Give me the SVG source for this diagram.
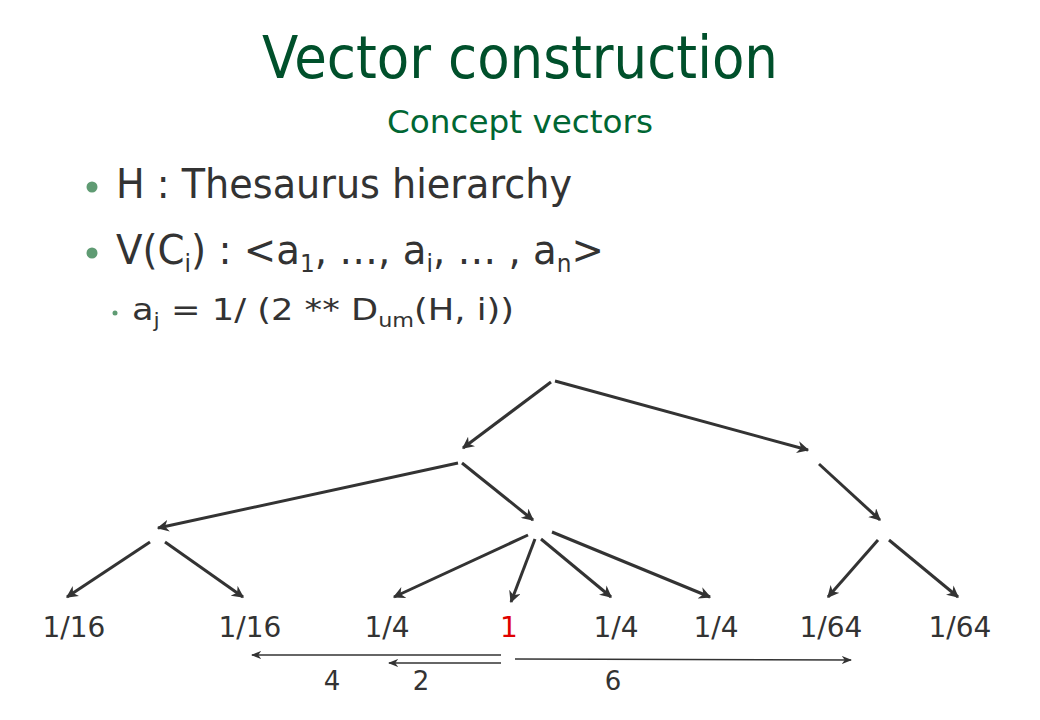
<svg xmlns="http://www.w3.org/2000/svg" width="1040" height="720" viewBox="0 0 1040 720">
<defs>
<marker id="ah" viewBox="0 0 10 10" refX="9" refY="5" markerWidth="4" markerHeight="4" orient="auto" markerUnits="strokeWidth">
<path d="M0,0 L10,5 L0,10 L3,5 z" fill="#333"/>
</marker>
<marker id="ah2" viewBox="0 0 10 10" refX="9" refY="5" markerWidth="8" markerHeight="8" orient="auto" markerUnits="strokeWidth">
<path d="M0,1 L10,5 L0,9 L3,5 z" fill="#333"/>
</marker>
</defs>
<style>
text{font-family:"DejaVu Sans","Liberation Sans",sans-serif;}
.t{fill:#00502b;font-size:58px;}
.st{fill:#006633;font-size:32px;}
.b{fill:#333;font-size:40px;}
.sb{fill:#333;font-size:30px;}
.lab{fill:#333;font-size:28px;}
.num{fill:#333;font-size:26px;}
.e{stroke:#333;stroke-width:3;fill:none;marker-end:url(#ah);}
.d{stroke:#333;stroke-width:1.3;fill:none;marker-end:url(#ah2);}
</style>
<rect width="1040" height="720" fill="#fff"/>
<g id="title">
<text class="t" x="520" y="78" text-anchor="middle" textLength="516" lengthAdjust="spacingAndGlyphs">Vector construction</text>
<text class="st" x="520" y="133" text-anchor="middle" textLength="266" lengthAdjust="spacingAndGlyphs">Concept vectors</text>
</g>
<g id="bullets">
<circle cx="92" cy="187" r="5.5" fill="#5f9b73"/>
<text class="b" x="116" y="198" textLength="456" lengthAdjust="spacingAndGlyphs">H : Thesaurus hierarchy</text>
<circle cx="92" cy="253" r="5.5" fill="#5f9b73"/>
<text class="b" x="116" y="264" textLength="488" lengthAdjust="spacingAndGlyphs">V(C<tspan font-size="24" dy="8">i</tspan><tspan dy="-8">) : &lt;a</tspan><tspan font-size="24" dy="8">1</tspan><tspan dy="-8">, …, a</tspan><tspan font-size="24" dy="8">i</tspan><tspan dy="-8">, … , a</tspan><tspan font-size="24" dy="8">n</tspan><tspan dy="-8">&gt;</tspan></text>
<circle cx="115" cy="313" r="2.5" fill="#5f9b73"/>
<text class="sb" x="132" y="320" textLength="382" lengthAdjust="spacingAndGlyphs">a<tspan font-size="19" dy="7">j</tspan><tspan dy="-7"> = 1/  (2 ** D</tspan><tspan font-size="19" dy="7">um</tspan><tspan dy="-7">(H, i))</tspan></text>
</g>
<g id="edges">
<line class="e" x1="551" y1="382" x2="463" y2="448"/>
<line class="e" x1="555" y1="381" x2="808" y2="450"/>
<line class="e" x1="458" y1="463" x2="158" y2="528"/>
<line class="e" x1="462" y1="463" x2="533" y2="520"/>
<line class="e" x1="819" y1="464" x2="880" y2="520"/>
<line class="e" x1="150" y1="542" x2="67" y2="597"/>
<line class="e" x1="165" y1="542" x2="243" y2="597"/>
<line class="e" x1="528" y1="535" x2="394" y2="597"/>
<line class="e" x1="535" y1="539" x2="511" y2="602"/>
<line class="e" x1="541" y1="539" x2="611" y2="597"/>
<line class="e" x1="552" y1="532" x2="710" y2="597"/>
<line class="e" x1="878" y1="540" x2="828" y2="597"/>
<line class="e" x1="889" y1="540" x2="958" y2="597"/>
</g>
<g id="leaves">
<text class="lab" x="74" y="637" text-anchor="middle">1/16</text>
<text class="lab" x="250" y="637" text-anchor="middle">1/16</text>
<text class="lab" x="387" y="637" text-anchor="middle">1/4</text>
<text class="lab" x="509" y="637" text-anchor="middle" style="fill:#e00000">1</text>
<text class="lab" x="616" y="637" text-anchor="middle">1/4</text>
<text class="lab" x="716" y="637" text-anchor="middle">1/4</text>
<text class="lab" x="831" y="637" text-anchor="middle">1/64</text>
<text class="lab" x="960" y="637" text-anchor="middle">1/64</text>
</g>
<g id="distances">
<line class="d" x1="501" y1="655" x2="252" y2="655"/>
<line class="d" x1="501" y1="663" x2="389" y2="663"/>
<line class="d" x1="515" y1="659" x2="851" y2="660"/>
<text class="num" x="332" y="690" text-anchor="middle">4</text>
<text class="num" x="421" y="690" text-anchor="middle">2</text>
<text class="num" x="613" y="690" text-anchor="middle">6</text>
</g>
</svg>
